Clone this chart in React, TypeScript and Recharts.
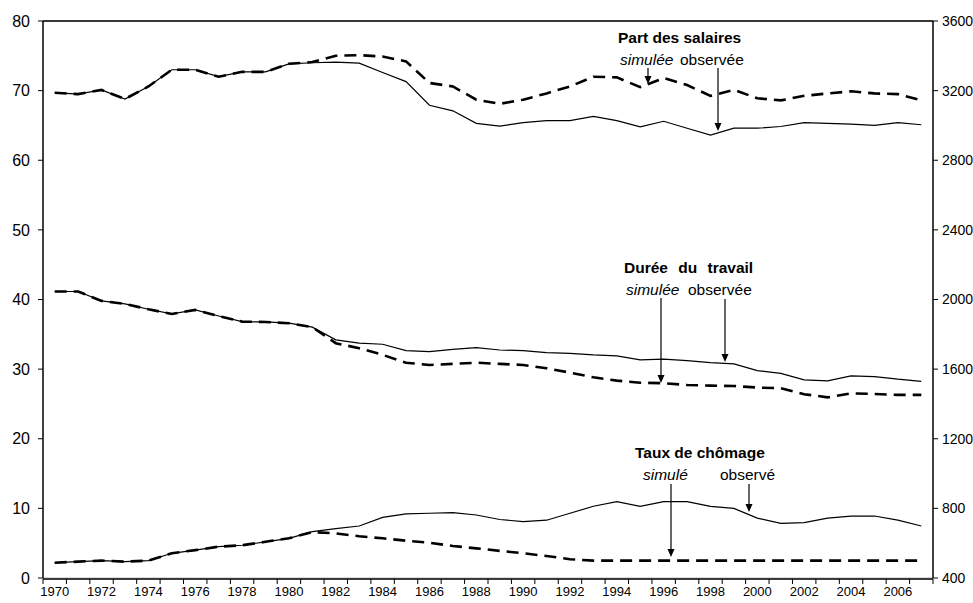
import React from 'react';
import { LineChart, Line, XAxis, YAxis, CartesianGrid, ReferenceLine } from 'recharts';

const years = [1970, 1971, 1972, 1973, 1974, 1975, 1976, 1977, 1978, 1979, 1980, 1981, 1982, 1983, 1984, 1985, 1986, 1987, 1988, 1989, 1990, 1991, 1992, 1993, 1994, 1995, 1996, 1997, 1998, 1999, 2000, 2001, 2002, 2003, 2004, 2005, 2006, 2007];

const partObs = [69.7, 69.5, 70.1, 68.8, 70.6, 73.0, 73.0, 72.0, 72.7, 72.7, 73.85, 74.0, 74.1, 73.95, 72.6, 71.3, 67.9, 67.1, 65.3, 64.9, 65.4, 65.7, 65.7, 66.3, 65.7, 64.8, 65.6, 64.6, 63.6, 64.6, 64.6, 64.85, 65.4, 65.3, 65.2, 65.0, 65.4, 65.1];
const partSim = [69.7, 69.5, 70.1, 68.8, 70.6, 73.0, 73.0, 72.0, 72.7, 72.7, 73.85, 74.1, 75.0, 75.1, 74.9, 74.2, 71.1, 70.6, 68.7, 68.1, 68.7, 69.6, 70.6, 72.0, 71.9, 70.5, 71.8, 70.8, 69.25, 70.1, 68.9, 68.6, 69.25, 69.6, 69.9, 69.6, 69.5, 68.6];

const dureeObs = [2046, 2046, 1992, 1975, 1944, 1917, 1940, 1905, 1873, 1871, 1864, 1841, 1768, 1749, 1743, 1706, 1700, 1714, 1724, 1710, 1706, 1695, 1691, 1682, 1676, 1653, 1657, 1649, 1637, 1630, 1591, 1576, 1538, 1532, 1561, 1557, 1542, 1530];
const dureeSim = [2046, 2046, 1992, 1975, 1944, 1917, 1940, 1905, 1873, 1871, 1864, 1841, 1749, 1720, 1682, 1637, 1624, 1630, 1637, 1630, 1624, 1605, 1580, 1553, 1534, 1522, 1519, 1509, 1505, 1503, 1494, 1490, 1456, 1438, 1461, 1457, 1452, 1452];

const chomObs = [2.2, 2.35, 2.5, 2.35, 2.5, 3.55, 4.0, 4.5, 4.7, 5.2, 5.7, 6.65, 7.1, 7.47, 8.7, 9.2, 9.3, 9.4, 9.05, 8.4, 8.1, 8.3, 9.3, 10.3, 10.96, 10.3, 10.96, 10.96, 10.3, 10.0, 8.6, 7.86, 7.95, 8.6, 8.9, 8.9, 8.3, 7.47];
const chomSim = [2.2, 2.35, 2.5, 2.35, 2.5, 3.55, 4.0, 4.5, 4.7, 5.2, 5.7, 6.6, 6.4, 6.0, 5.7, 5.36, 5.07, 4.6, 4.26, 3.9, 3.55, 3.16, 2.7, 2.5, 2.5, 2.5, 2.5, 2.5, 2.5, 2.5, 2.5, 2.5, 2.5, 2.5, 2.5, 2.5, 2.5, 2.5];

const xLabelTicks = [1970, 1972, 1974, 1976, 1978, 1980, 1982, 1984, 1986, 1988, 1990, 1992, 1994, 1996, 1998, 2000, 2002, 2004, 2006];
const xMarkTicks = [1969.5, 1970.5, 1971.5, 1972.5, 1973.5, 1974.5, 1975.5, 1976.5, 1977.5, 1978.5, 1979.5, 1980.5, 1981.5, 1982.5, 1983.5, 1984.5, 1985.5, 1986.5, 1987.5, 1988.5, 1989.5, 1990.5, 1991.5, 1992.5, 1993.5, 1994.5, 1995.5, 1996.5, 1997.5, 1998.5, 1999.5, 2000.5, 2001.5, 2002.5, 2003.5, 2004.5, 2005.5, 2006.5, 2007.5];
const leftTicks = [0, 10, 20, 30, 40, 50, 60, 70, 80];
const rightTicks = [400, 800, 1200, 1600, 2000, 2400, 2800, 3200, 3600];

const data = years.map((y, i) => ({
  year: y,
  partObs: partObs[i],
  partSim: partSim[i],
  dureeObs: dureeObs[i],
  dureeSim: dureeSim[i],
  chomObs: chomObs[i],
  chomSim: chomSim[i],
}));

const FONT = '"Liberation Sans", Arial, sans-serif';

const Arrow = ({ x, y1, y2 }: { x: number; y1: number; y2: number }) => (
  <g>
    <line x1={x} y1={y1} x2={x} y2={y2 - 6} stroke="#000" strokeWidth={1.2} />
    <polygon points={`${x - 3.5},${y2 - 8} ${x + 3.5},${y2 - 8} ${x},${y2}`} fill="#000" />
  </g>
);

export default function App() {
  return (
    <div style={{ position: 'absolute', left: 0, top: 0, width: 973, height: 603, background: '#fff', fontFamily: FONT }}>
      <LineChart width={973} height={603} data={data} margin={{ top: 21, right: 0, bottom: 23, left: 0 }}>
        <CartesianGrid horizontal vertical={false} stroke="#b8b8b8" strokeWidth={1} xAxisId="marks" />
        <XAxis
          xAxisId="marks"
          dataKey="year"
          type="number"
          domain={[1969.5, 2007.5]}
          ticks={xMarkTicks}
          interval={0}
          height={1}
          tickFormatter={() => ''}
          axisLine={{ stroke: '#000', strokeWidth: 1.5 }}
          tickLine={{ stroke: '#000' }}
          tickSize={5}
        />
        <XAxis
          xAxisId="labels"
          dataKey="year"
          type="number"
          domain={[1969.5, 2007.5]}
          ticks={xLabelTicks}
          interval={0}
          height={1}
          axisLine={false}
          tickLine={false}
          tickSize={0}
          tickMargin={9}
          tick={{ fill: '#000', fontSize: 13, fontFamily: FONT }}
        />
        <YAxis
          yAxisId="left"
          domain={[0, 80]}
          ticks={leftTicks}
          interval={0}
          width={43}
          axisLine={{ stroke: '#000', strokeWidth: 1.5 }}
          tickLine={{ stroke: '#000' }}
          tickSize={5}
          tickMargin={8}
          tick={{ fill: '#000', fontSize: 16, fontFamily: FONT }}
        />
        <YAxis
          yAxisId="right"
          orientation="right"
          domain={[400, 3600]}
          ticks={rightTicks}
          interval={0}
          width={40}
          axisLine={{ stroke: '#000', strokeWidth: 1.5 }}
          tickLine={{ stroke: '#000' }}
          tickSize={5}
          tickMargin={4}
          tick={{ fill: '#000', fontSize: 14, fontFamily: FONT }}
        />
        <ReferenceLine yAxisId="left" xAxisId="marks" y={80} stroke="#000" strokeWidth={1.5} />
        <Line xAxisId="marks" yAxisId="left" dataKey="partObs" stroke="#000" strokeWidth={1.2} dot={false} isAnimationActive={false} />
        <Line xAxisId="marks" yAxisId="left" dataKey="partSim" stroke="#000" strokeWidth={2.6} strokeDasharray="12 7" dot={false} isAnimationActive={false} />
        <Line xAxisId="marks" yAxisId="right" dataKey="dureeObs" stroke="#000" strokeWidth={1.2} dot={false} isAnimationActive={false} />
        <Line xAxisId="marks" yAxisId="right" dataKey="dureeSim" stroke="#000" strokeWidth={2.6} strokeDasharray="12 7" dot={false} isAnimationActive={false} />
        <Line xAxisId="marks" yAxisId="left" dataKey="chomObs" stroke="#000" strokeWidth={1.2} dot={false} isAnimationActive={false} />
        <Line xAxisId="marks" yAxisId="left" dataKey="chomSim" stroke="#000" strokeWidth={2.6} strokeDasharray="12 7" dot={false} isAnimationActive={false} />
      </LineChart>
      <svg width={973} height={603} style={{ position: 'absolute', left: 0, top: 0, pointerEvents: 'none' }} fontFamily={FONT}>
        <text x={618} y={43} fontSize={15.5} fontWeight="bold">Part des salaires</text>
        <text x={620} y={65} fontSize={15.5} fontStyle="italic">simulée</text>
        <text x={680} y={65} fontSize={15.5}>observée</text>
        <Arrow x={648} y1={68} y2={84} />
        <Arrow x={718} y1={68} y2={131} />

        <text x={624} y={273} fontSize={15.5} fontWeight="bold" wordSpacing={6}>Durée du travail</text>
        <text x={626} y={295} fontSize={15.5} fontStyle="italic">simulée</text>
        <text x={688} y={295} fontSize={15.5}>observée</text>
        <Arrow x={661} y1={298} y2={383} />
        <Arrow x={725} y1={299} y2={362} />

        <text x={635} y={458} fontSize={15.5} fontWeight="bold">Taux de chômage</text>
        <text x={643} y={480} fontSize={15.5} fontStyle="italic">simulé</text>
        <text x={720} y={480} fontSize={15.5}>observé</text>
        <Arrow x={671} y1={484} y2={557} />
        <Arrow x={749} y1={484} y2={512} />
      </svg>
    </div>
  );
}
